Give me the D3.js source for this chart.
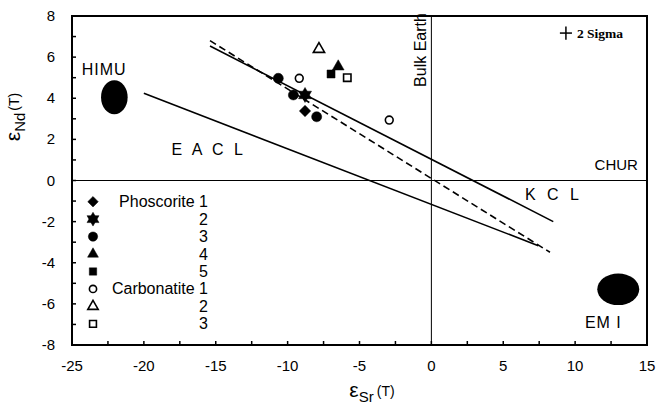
<!DOCTYPE html>
<html>
<head>
<meta charset="utf-8">
<script src="https://cdn.jsdelivr.net/npm/d3@7"></script>
</head>
<body style="margin:0">
<svg id="chart" width="657" height="408"></svg>
<script>
// sample points, [eSr, eNd]
const phoscorite1 = [[-8.79, 3.38]];
const phoscorite2 = [[-8.79, 4.16]];
const phoscorite3 = [[-10.65, 4.97], [-9.6, 4.16], [-7.98, 3.1]];
const phoscorite4 = [[-6.48, 5.54]];
const phoscorite5 = [[-6.98, 5.18]];
const carbonatite1 = [[-9.19, 4.97], [-2.93, 2.94]];
const carbonatite2 = [[-7.82, 6.39]];
const carbonatite3 = [[-5.85, 5.0]];

// correlation lines
const kclLine = [[-15.4, 6.54], [8.48, -2.0]];
const trendLine = [[-15.4, 6.8], [8.25, -3.49]];
const eaclLine = [[-20.0, 4.24], [7.44, -3.17]];

// mantle end-members: x range, y range
const himu = {xr: [-22.98, -21.13], yr: [3.22, 4.87]};
const em1 = {xr: [11.54, 14.46], yr: [-6.06, -4.52]};

const xTicks = [-25, -22.5, -20, -17.5, -15, -12.5, -10, -7.5, -5, -2.5, 0, 2.5, 5, 7.5, 10, 12.5, 15];
const yTicks = d3.range(-8, 9, 1);

const legendNames = ["Phoscorite 1", "2", "3", "4", "5", "Carbonatite 1", "2", "3"];

const font = "Liberation Sans, Arial, sans-serif";
const svg = d3.select("#chart").attr("font-family", font);
const x = d3.scaleLinear().domain([-25, 15]).range([72, 647]);
const y = d3.scaleLinear().domain([-8, 8]).range([345, 16]);

// frame, drawn as four plain lines
const x0 = x(-25), x1 = x(15), y0 = y(-8), y1 = y(8);
[[x0, y1, x1, y1], [x1, y1, x1, y0], [x1, y0, x0, y0], [x0, y0, x0, y1]].forEach(function(s) {
  svg.append("line")
    .attr("x1", s[0]).attr("y1", s[1]).attr("x2", s[2]).attr("y2", s[3])
    .attr("stroke", "#000").attr("stroke-width", 2).attr("stroke-linecap", "square");
});

// inward ticks
svg.selectAll(null).data(xTicks).enter().append("line")
  .attr("x1", d => x(d)).attr("x2", d => x(d))
  .attr("y1", y0).attr("y2", y0 - 4)
  .attr("stroke", "#000").attr("stroke-width", 1.5);
svg.selectAll(null).data(xTicks.filter(d => d % 5 === 0)).enter().append("text")
  .attr("x", d => x(d)).attr("y", y0 + 26)
  .attr("text-anchor", "middle").attr("font-size", 15)
  .text(d => d);
svg.selectAll(null).data(yTicks).enter().append("line")
  .attr("x1", x0).attr("x2", x0 + 4)
  .attr("y1", d => y(d)).attr("y2", d => y(d))
  .attr("stroke", "#000").attr("stroke-width", 1.5);
svg.selectAll(null).data(yTicks.filter(d => d % 2 === 0)).enter().append("text")
  .attr("x", x0 - 17).attr("y", d => y(d) + 5)
  .attr("text-anchor", "end").attr("font-size", 15)
  .text(d => d);

// hexagram symbol
const symbolHexStar = {
  draw(ctx, size) {
    const r = Math.sqrt(size / 1.6);
    for (let k = 0; k < 2; k++) {
      for (let i = 0; i < 3; i++) {
        const a = (k * 60 + i * 120 - 90) * Math.PI / 180;
        if (i === 0) ctx.moveTo(r * Math.cos(a), r * Math.sin(a));
        else ctx.lineTo(r * Math.cos(a), r * Math.sin(a));
      }
      ctx.closePath();
    }
  }
};

const styles = [
  {data: phoscorite1, type: d3.symbolSquare, size: 64, rot: 45, fill: true},
  {data: phoscorite2, type: symbolHexStar, size: 90, rot: 0, fill: true},
  {data: phoscorite3, type: d3.symbolCircle, size: 80, rot: 0, fill: true},
  {data: phoscorite4, type: d3.symbolTriangle, size: 60, rot: 0, fill: true},
  {data: phoscorite5, type: d3.symbolSquare, size: 64, rot: 0, fill: true},
  {data: carbonatite1, type: d3.symbolCircle, size: 48, rot: 0, fill: false},
  {data: carbonatite2, type: d3.symbolTriangle, size: 55, rot: 0, fill: false},
  {data: carbonatite3, type: d3.symbolSquare, size: 55, rot: 0, fill: false}
];

// reference lines
svg.append("line")
  .attr("x1", x(-25)).attr("x2", x(15)).attr("y1", y(0)).attr("y2", y(0))
  .attr("stroke", "#000").attr("stroke-width", 1);
svg.append("line")
  .attr("x1", x(0)).attr("x2", x(0)).attr("y1", y(-8)).attr("y2", y(8))
  .attr("stroke", "#000").attr("stroke-width", 1);

const line = d3.line().x(d => x(d[0])).y(d => y(d[1]));
svg.append("path").attr("d", line(kclLine))
  .attr("fill", "none").attr("stroke", "#000").attr("stroke-width", 1.6);
svg.append("path").attr("d", line(eaclLine))
  .attr("fill", "none").attr("stroke", "#000").attr("stroke-width", 1.6);
svg.append("path").attr("d", line(trendLine))
  .attr("fill", "none").attr("stroke", "#000").attr("stroke-width", 1.6)
  .attr("stroke-dasharray", "7,4");

// end-member fields
[himu, em1].forEach(function(r) {
  svg.append("ellipse")
    .attr("cx", (x(r.xr[0]) + x(r.xr[1])) / 2)
    .attr("cy", (y(r.yr[0]) + y(r.yr[1])) / 2)
    .attr("rx", (x(r.xr[1]) - x(r.xr[0])) / 2)
    .attr("ry", (y(r.yr[0]) - y(r.yr[1])) / 2)
    .attr("fill", "#000");
});

// samples
styles.forEach(function(s) {
  svg.selectAll(null)
    .data(s.data)
    .enter()
    .append("path")
    .attr("d", d3.symbol().type(s.type).size(s.size))
    .attr("transform", d => "translate(" + x(d[0]) + "," + y(d[1]) + ") rotate(" + s.rot + ")")
    .attr("fill", s.fill ? "#000" : "#fff")
    .attr("stroke", "#000")
    .attr("stroke-width", s.fill ? 0.5 : 1.6);
});

// legend
const leg = svg.append("g");
styles.forEach(function(s, i) {
  const cy = 201.7 + i * 17.45;
  leg.append("path")
    .attr("d", d3.symbol().type(s.type).size(s.size * 0.85))
    .attr("transform", "translate(93," + cy + ") rotate(" + s.rot + ")")
    .attr("fill", s.fill ? "#000" : "#fff")
    .attr("stroke", "#000")
    .attr("stroke-width", s.fill ? 0.5 : 1.6);
  leg.append("text")
    .attr("x", 208).attr("y", cy + 5.5)
    .attr("text-anchor", "end")
    .attr("font-size", 16)
    .text(legendNames[i]);
});

// labels
function label(t, xv, yv, size, anchor, spacing) {
  return svg.append("text")
    .attr("x", x(xv)).attr("y", y(yv))
    .attr("font-size", size)
    .attr("text-anchor", anchor || "start")
    .attr("letter-spacing", spacing || 0)
    .text(t);
}
label("HIMU", -24.33, 5.13, 16, "start", 1);
label("E A C L", -18.07, 1.24, 16, "start", 3);
label("K C L", 6.51, -0.95, 16, "start", 3.5);
label("CHUR", 14.37, 0.51, 15, "end");
label("EM I", 10.68, -7.17, 16, "start", 1);

svg.append("text")
  .attr("transform", "translate(" + (x(0) - 5.5) + "," + y(4.55) + ") rotate(-90)")
  .attr("font-size", 16)
  .text("Bulk Earth");

// 2 sigma error cross
const sigX = 9.36, sigY = 7.17;
svg.append("line")
  .attr("x1", x(sigX - 0.42)).attr("x2", x(sigX + 0.42)).attr("y1", y(sigY)).attr("y2", y(sigY))
  .attr("stroke", "#000").attr("stroke-width", 1.5);
svg.append("line")
  .attr("x1", x(sigX)).attr("x2", x(sigX)).attr("y1", y(sigY - 0.32)).attr("y2", y(sigY + 0.32))
  .attr("stroke", "#000").attr("stroke-width", 1.5);
svg.append("text")
  .attr("x", x(10.13)).attr("y", y(sigY) + 4.5)
  .attr("font-family", "Liberation Serif, Times New Roman, serif")
  .attr("font-weight", "bold")
  .attr("font-size", 13.5)
  .text("2 Sigma");

// axis titles
const xt = svg.append("text")
  .attr("x", 372).attr("y", 397)
  .attr("text-anchor", "middle");
xt.append("tspan").attr("font-size", 21).text("ε");
xt.append("tspan").attr("font-size", 15).attr("dy", 5).text("Sr");
xt.append("tspan").attr("font-size", 14).attr("dy", -6).attr("dx", 3).text("(T)");

const yt = svg.append("text")
  .attr("transform", "translate(20,117) rotate(-90)")
  .attr("text-anchor", "middle");
yt.append("tspan").attr("font-size", 21).text("ε");
yt.append("tspan").attr("font-size", 15).attr("dy", 5).text("Nd");
yt.append("tspan").attr("font-size", 14).attr("dy", -6).attr("dx", 2).text("(T)");
</script>
</body>
</html>
